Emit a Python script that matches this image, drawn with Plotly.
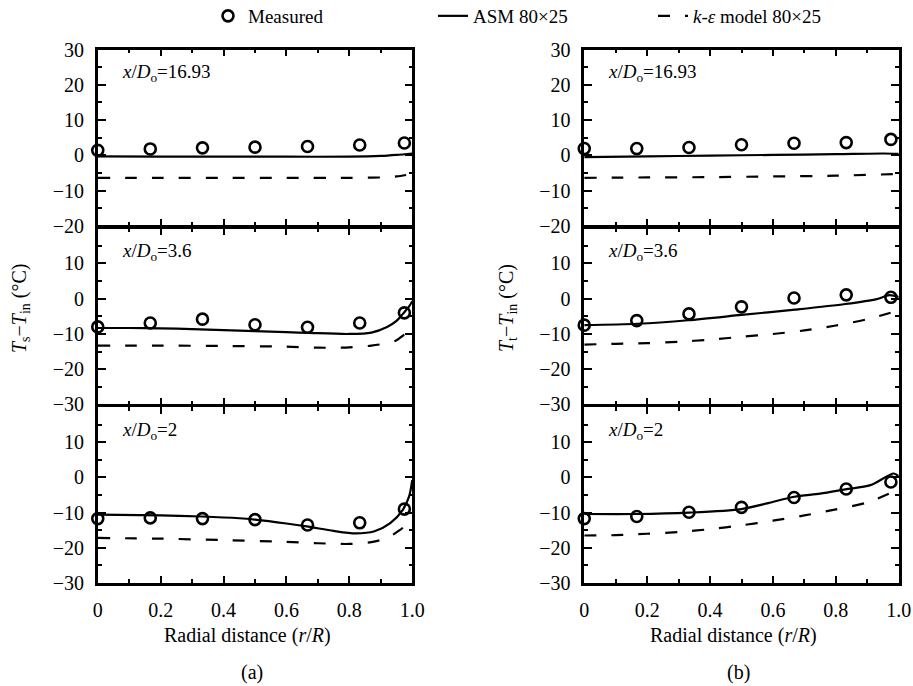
import plotly.graph_objects as go
from plotly.subplots import make_subplots

W, H = 913, 686

# ---------------- data ----------------
meas_x = [0, 0.167, 0.333, 0.5, 0.667, 0.833, 0.975]

# Panel (a): T_s - T_in
a1_meas = [1.4, 1.8, 2.1, 2.3, 2.5, 2.9, 3.5]
a1_asm_x = [0, 0.2, 0.4, 0.6, 0.8, 0.9, 0.95, 1.0]
a1_asm_y = [-0.3, -0.4, -0.4, -0.4, -0.4, -0.2, 0.1, 0.5]
a1_ke_x = [0, 0.2, 0.4, 0.6, 0.8, 0.9, 0.95, 1.0]
a1_ke_y = [-6.4, -6.4, -6.4, -6.4, -6.4, -6.3, -6.0, -5.3]

a2_meas = [-8.0, -6.9, -5.8, -7.4, -8.1, -6.9, -4.0]
a2_asm_x = [0, 0.1, 0.2, 0.3, 0.4, 0.5, 0.6, 0.67, 0.8, 0.87, 0.92, 0.95, 0.97, 0.99, 1.0]
a2_asm_y = [-8.3, -8.3, -8.4, -8.6, -8.9, -9.2, -9.5, -9.7, -10.0, -9.6, -8.0, -6.3, -4.3, -2.2, -0.7]
a2_ke_x = [0, 0.2, 0.4, 0.6, 0.7, 0.8, 0.87, 0.92, 0.95, 0.975, 1.0]
a2_ke_y = [-13.3, -13.3, -13.4, -13.6, -13.9, -13.8, -13.3, -12.6, -11.8, -10.2, -9.5]

a3_meas = [-11.7, -11.5, -11.7, -12.0, -13.5, -12.9, -9.0]
a3_asm_x = [0, 0.2, 0.33, 0.45, 0.5, 0.6, 0.67, 0.75, 0.82, 0.88, 0.93, 0.97, 0.99, 1.0]
a3_asm_y = [-10.6, -10.8, -11.1, -11.6, -12.0, -13.1, -14.0, -15.2, -15.9, -15.3, -13.0, -9.2, -5.4, -0.8]
a3_ke_x = [0, 0.2, 0.4, 0.6, 0.7, 0.8, 0.87, 0.92, 0.96, 0.98]
a3_ke_y = [-17.2, -17.4, -17.8, -18.3, -18.7, -18.9, -18.4, -17.2, -15.0, -13.5]

# Panel (b): T_t - T_in
b1_meas = [1.9, 1.9, 2.2, 3.0, 3.4, 3.6, 4.5]
b1_asm_x = [0, 0.2, 0.4, 0.6, 0.8, 0.95, 1.0]
b1_asm_y = [-0.5, -0.3, -0.1, 0.1, 0.3, 0.5, 0.4]
b1_ke_x = [0, 0.2, 0.4, 0.6, 0.8, 1.0]
b1_ke_y = [-6.4, -6.3, -6.2, -6.0, -5.8, -5.3]

b2_meas = [-7.5, -6.2, -4.3, -2.3, 0.2, 1.1, 0.4]
b2_asm_x = [0, 0.17, 0.33, 0.5, 0.67, 0.83, 0.93, 0.97, 1.0]
b2_asm_y = [-7.5, -7.1, -6.1, -4.6, -3.1, -1.5, -0.1, 1.0, 0.5]
b2_ke_x = [0, 0.1, 0.2, 0.3, 0.4, 0.5, 0.6, 0.7, 0.8, 0.9, 1.0]
b2_ke_y = [-13.0, -12.8, -12.6, -12.2, -11.6, -10.8, -10.0, -9.0, -7.6, -5.8, -3.3]

b3_meas = [-11.7, -11.1, -9.9, -8.5, -5.7, -3.3, -1.3]
b3_asm_x = [0, 0.165, 0.333, 0.5, 0.585, 0.668, 0.75, 0.83, 0.91, 0.984, 1.0]
b3_asm_y = [-10.4, -10.4, -10.0, -9.0, -7.3, -5.5, -4.6, -3.4, -2.2, 1.1, 0.3]
b3_ke_x = [0, 0.1, 0.2, 0.3, 0.4, 0.5, 0.6, 0.7, 0.8, 0.9, 0.98]
b3_ke_y = [-16.5, -16.4, -16.0, -15.5, -14.7, -13.6, -12.3, -10.8, -9.1, -7.1, -4.2]

station_labels = ["16.93", "3.6", "2"]
x_tickvals = [0, 0.2, 0.4, 0.6, 0.8, 1.0]
x_ticktext = ["0", "0.2", "0.4", "0.6", "0.8", "1.0"]
y_ticks_top = [-20, -10, 0, 10, 20, 30]
y_ticks_low = [-30, -20, -10, 0, 10]
y_range_top = [-20, 30]
y_range_low = [-30, 20]

series = {
    (1, 1): (a1_meas, a1_asm_x, a1_asm_y, a1_ke_x, a1_ke_y),
    (2, 1): (a2_meas, a2_asm_x, a2_asm_y, a2_ke_x, a2_ke_y),
    (3, 1): (a3_meas, a3_asm_x, a3_asm_y, a3_ke_x, a3_ke_y),
    (1, 2): (b1_meas, b1_asm_x, b1_asm_y, b1_ke_x, b1_ke_y),
    (2, 2): (b2_meas, b2_asm_x, b2_asm_y, b2_ke_x, b2_ke_y),
    (3, 2): (b3_meas, b3_asm_x, b3_asm_y, b3_ke_x, b3_ke_y),
}

# ---------------- figure ----------------
FONT = "Liberation Serif"
LW = 2.5  # frame line width


def px(x):
    return x / W


def py(y):
    return 1 - y / H


fig = make_subplots(rows=3, cols=2, vertical_spacing=0, horizontal_spacing=0.1)

for (r, c), (meas, ax_, ay_, kx_, ky_) in series.items():
    first = (r == 1 and c == 1)
    fig.add_trace(go.Scatter(
        x=kx_, y=ky_, mode="lines",
        line=dict(color="black", width=2.2, dash="12px,15px", shape="spline", smoothing=0.8),
        name="<i>k</i>-<i>ε</i> model 80×25", showlegend=first, legend="legend3",
        hoverinfo="skip"), row=r, col=c)
    fig.add_trace(go.Scatter(
        x=ax_, y=ay_, mode="lines",
        line=dict(color="black", width=2.2, shape="spline", smoothing=0.8),
        name="ASM 80×25", showlegend=first, legend="legend2",
        hoverinfo="skip"), row=r, col=c)
    fig.add_trace(go.Scatter(
        x=meas_x, y=meas, mode="markers",
        marker=dict(symbol="circle-open", size=11, color="black", line=dict(width=2.6, color="black")),
        name="Measured", showlegend=first, legend="legend",
        cliponaxis=False, hoverinfo="skip"), row=r, col=c)

# frame edges in pixels (centre of the drawn lines)
left_px = {1: 96.5, 2: 583}
right_px = {1: 413.5, 2: 900}
edges = [48.3, 227, 405.7, 584.3]
h = LW / 2.0
col_dom = {c: [px(left_px[c] + h), px(right_px[c] - h)] for c in (1, 2)}
row_dom = {r: [py(edges[r] - h), py(edges[r - 1] + h)] for r in (1, 2, 3)}

for r in (1, 2, 3):
    for c in (1, 2):
        idx = (r - 1) * 2 + c
        xname = "xaxis" if idx == 1 else f"xaxis{idx}"
        yname = "yaxis" if idx == 1 else f"yaxis{idx}"
        fig.layout[xname].update(
            domain=col_dom[c], range=[0, 1], showgrid=False, zeroline=False,
            showline=True, linecolor="black", linewidth=LW, mirror="ticks",
            ticks="inside", ticklen=7, tickwidth=2, tickcolor="black",
            tickmode="array", tickvals=x_tickvals, ticktext=x_ticktext,
            showticklabels=(r == 3), ticklabelstandoff=7,
            tickfont=dict(family=FONT, size=20, color="black"),
            minor=dict(tickmode="linear", tick0=0, dtick=0.1, ticks="inside",
                       ticklen=4, tickwidth=2, tickcolor="black"),
        )
        fig.layout[yname].update(
            domain=row_dom[r], range=y_range_top if r == 1 else y_range_low,
            showgrid=False, zeroline=False,
            showline=True, linecolor="black", linewidth=LW, mirror="ticks",
            ticks="inside", ticklen=8, tickwidth=2, tickcolor="black",
            tickmode="array", tickvals=y_ticks_top if r == 1 else y_ticks_low,
            ticklabelstandoff=7,
            tickfont=dict(family=FONT, size=20, color="black"),
            minor=dict(tickmode="linear", tick0=0, dtick=5, ticks="inside",
                       ticklen=4, tickwidth=2, tickcolor="black"),
        )

annotations = []
# station labels
for r in (1, 2, 3):
    for c, x0 in ((1, 120), (2, 606)):
        annotations.append(dict(
            x=px(x0), y=py(edges[r - 1] + 25), xref="paper", yref="paper",
            xanchor="left", yanchor="middle", showarrow=False,
            text=f"<i>x</i>/<i>D</i><sub>o</sub>={station_labels[r-1]}",
            font=dict(family=FONT, size=19, color="black")))

# y titles
for xc, sub in ((20, "s"), (507, "t")):
    annotations.append(dict(x=px(xc), y=py(308), xref="paper", yref="paper", showarrow=False,
                            textangle=-90, xanchor="center", yanchor="middle",
                            text=f"<i>T</i><sub>{sub}</sub>−<i>T</i><sub>in</sub> (°C)",
                            font=dict(family=FONT, size=20, color="black")))
# x titles
for xc in (247, 733):
    annotations.append(dict(x=px(xc), y=py(635), xref="paper", yref="paper", showarrow=False,
                            xanchor="center", yanchor="middle",
                            text="Radial distance (<i>r</i>/<i>R</i>)",
                            font=dict(family=FONT, size=20, color="black")))
# panel labels
for xc, t in ((252, "(a)"), (738, "(b)")):
    annotations.append(dict(x=px(xc), y=py(672), xref="paper", yref="paper", showarrow=False,
                            xanchor="center", yanchor="middle", text=t,
                            font=dict(family=FONT, size=20, color="black")))

leg_common = dict(orientation="h", yanchor="middle", y=py(16), xanchor="left",
                  bgcolor="rgba(0,0,0,0)", borderwidth=0,
                  font=dict(family=FONT, size=19, color="black"))

fig.update_layout(
    width=W, height=H, margin=dict(l=0, r=0, t=0, b=0, autoexpand=False),
    plot_bgcolor="white", paper_bgcolor="white",
    annotations=annotations,
    legend=dict(x=px(208), **leg_common),
    legend2=dict(x=px(433), **leg_common),
    legend3=dict(x=px(653), **leg_common),
)

fig.write_html("out.html", config={"displayModeBar": False},
               post_script="document.body.style.margin='0px';")
